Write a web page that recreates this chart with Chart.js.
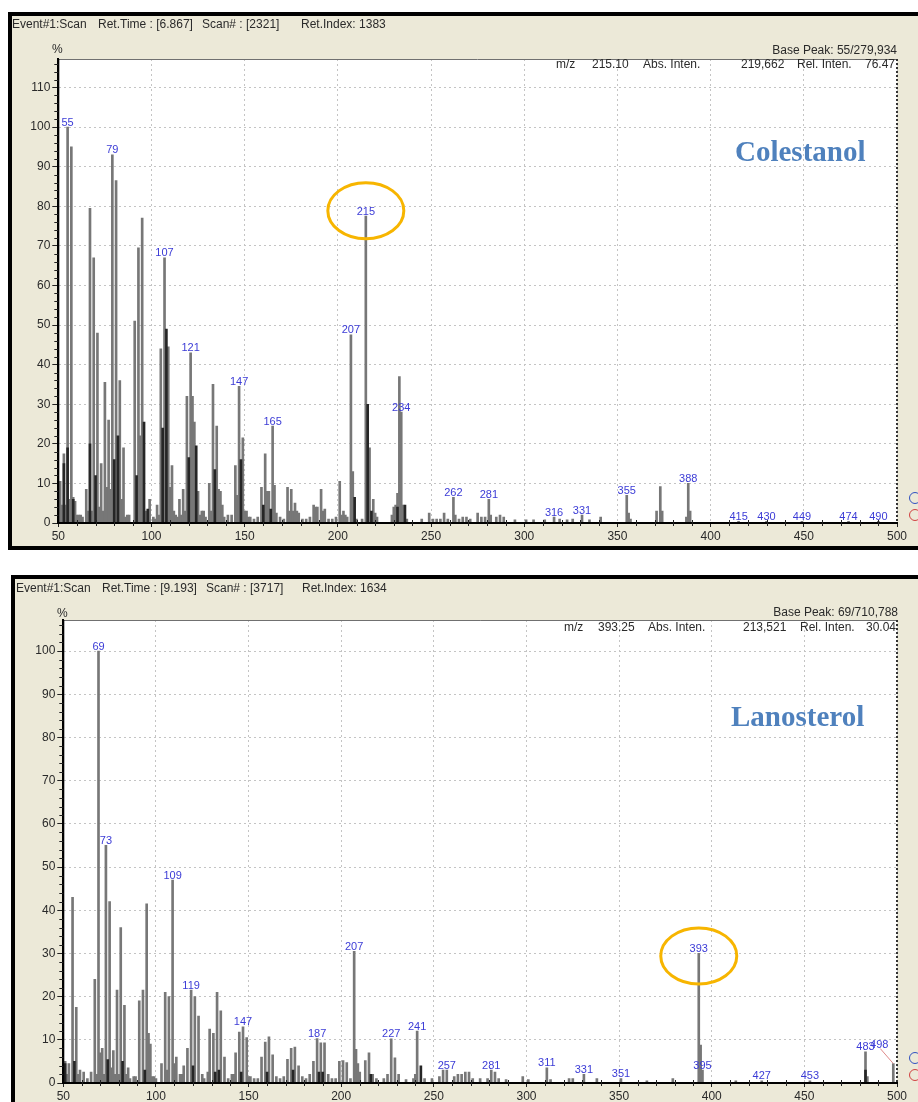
<!DOCTYPE html>
<html lang="es">
<head>
<meta charset="UTF-8">
<title>Espectros de masas - Colestanol / Lanosterol</title>
<script src="https://cdn.jsdelivr.net/npm/chart.js"></script>
<style>
    body {
        margin: 0;
        width: 918px;
        height: 1102px;
        overflow: hidden;
        position: relative;
        background: #fff;
        font-family: "Liberation Sans", Arial, sans-serif;
    }
    .panel {
        position: absolute;
        background: #ECE9D8;
        border: 4px solid #000;
        border-right: none;
        box-sizing: border-box;
    }
    #panelTop { left: 8px; top: 12px; width: 920px; height: 538px; }
    #panelBottom { left: 11px; top: 575px; width: 920px; height: 540px; }
    canvas { position: absolute; left: 0; }
    #chartTop { top: 0; }
    #chartBottom { top: 556px; }
    .t {
        position: absolute;
        font-size: 12px;
        line-height: 12px;
        color: #2a2a2a;
        white-space: nowrap;
    }
    .name {
        position: absolute;
        font-family: "Liberation Serif", "Times New Roman", serif;
        font-weight: bold;
        font-size: 29px;
        line-height: 29px;
        color: #4F81BD;
    }
    .icon {
        position: absolute;
        width: 10px;
        height: 10px;
        border-radius: 50%;
        border: 1.5px solid;
        left: 909px;
    }
</style>
</head>
<body>
<div class="panel" id="panelTop"></div>
<div class="panel" id="panelBottom"></div>
<canvas id="chartTop" width="918" height="550"></canvas>
<canvas id="chartBottom" width="918" height="546"></canvas>

<!-- top panel texts -->
<span class="t" style="left:12px;top:18px">Event#1:Scan</span>
<span class="t" style="left:98px;top:18px">Ret.Time : [6.867]</span>
<span class="t" style="left:202px;top:18px">Scan# : [2321]</span>
<span class="t" style="left:301px;top:18px">Ret.Index: 1383</span>
<span class="t" style="left:52px;top:43px">%</span>
<span class="t" style="right:21px;top:44px">Base Peak: 55/279,934</span>
<span class="t" style="left:556px;top:58px">m/z</span>
<span class="t" style="left:592px;top:58px">215.10</span>
<span class="t" style="left:643px;top:58px">Abs. Inten.</span>
<span class="t" style="left:741px;top:58px">219,662</span>
<span class="t" style="left:797px;top:58px">Rel. Inten.</span>
<span class="t" style="left:865px;top:58px">76.47</span>
<span class="name" style="left:735px;top:137px">Colestanol</span>
<div class="icon" style="top:492px;border-color:#3050c0"></div>
<div class="icon" style="top:509px;border-color:#d04040"></div>

<!-- bottom panel texts -->
<span class="t" style="left:16px;top:582px">Event#1:Scan</span>
<span class="t" style="left:102px;top:582px">Ret.Time : [9.193]</span>
<span class="t" style="left:206px;top:582px">Scan# : [3717]</span>
<span class="t" style="left:302px;top:582px">Ret.Index: 1634</span>
<span class="t" style="left:57px;top:607px">%</span>
<span class="t" style="right:20px;top:606px">Base Peak: 69/710,788</span>
<span class="t" style="left:564px;top:621px">m/z</span>
<span class="t" style="left:598px;top:621px">393.25</span>
<span class="t" style="left:648px;top:621px">Abs. Inten.</span>
<span class="t" style="left:743px;top:621px">213,521</span>
<span class="t" style="left:800px;top:621px">Rel. Inten.</span>
<span class="t" style="left:866px;top:621px">30.04</span>
<span class="name" style="left:731px;top:702px">Lanosterol</span>
<div class="icon" style="top:1052px;border-color:#3050c0"></div>
<div class="icon" style="top:1069px;border-color:#d04040"></div>

<script>
// ---- Colestanol (top) ----
const colMz = [50,51,52,53,54,55,56,57,58,59,60,61,62,63,65,66,67,68,69,71,72,73,74,75,76,77,78,79,81,83,84,85,86,87,88,
    91,93,94,95,97,99,101,102,103,104,105,107,109,110,111,112,113,114,115,116,117,118,119,121,122,123,125,126,127,128,129,
    131,132,133,135,136,137,138,139,141,143,145,146,147,149,150,151,152,153,155,157,159,161,162,163,165,166,167,169,171,
    173,174,175,176,177,178,179,181,183,185,187,188,189,191,192,193,195,197,199,201,202,203,204,205,207,208,210,213,215,
    217,219,220,221,229,230,231,232,233,234,235,237,245,249,251,253,255,257,259,262,263,265,267,269,271,275,277,279,281,
    282,285,287,289,295,301,305,311,316,319,323,326,331,335,341,355,356,357,371,373,374,387,388,389,415,430,449,474,490];
const colVal = [8,10.5,4.5,17.5,4.5,100,6,95,6.5,5.5,2,2,2,1.5,8.5,3,79.5,3,67,48,4,15,3,35.5,9,26,8.5,93,86.5,36,6,19,1.5,2,2,
    51,69.5,22,77,3,6,1.5,1,4.5,2,44,67,44.5,9,14.5,3,2,1.5,6,2,8.5,3,32,43,32,25.5,8,2,3,3,1.5,
    10,3,35,24.5,8.5,8,4.5,1.5,2,2,14.5,7,34.5,21.5,3,3,1.5,1.5,1,1.5,9,17.5,8,8,24.5,9.5,2.5,1.5,1,
    9,3,8.5,3,5,3,2.5,1,1,1.5,4.5,4,4,8.5,3,3.5,1,1,1.5,10.5,2,3,2,1.5,47.5,13,1,1,77.5,
    19,6,2.5,1.5,2,4,4.5,7.5,37,28,4.5,1,1,2.5,1,1,1,2.5,1,6.5,2,1,1.5,1.5,1,2.5,1.5,1.5,6,
    2,1.5,2,1.5,0.8,0.8,0.8,0.8,1.5,1,0.8,1,2,0.8,1.5,7,2.5,1,3,9.2,3,1.5,10,3,0.4,0.4,0.4,0.4,0.4];
const colDarkMz = [53,55,58,67,70,80,82,92,96,98,106,108,120,124,134,148,160,164,209,216,218,232,236];
const colDarkVal = [15,19,6,20,12,16,22,12,25.5,3.5,24,49,16.5,19.5,13.5,16,4.5,3.5,6.5,30,3,4,4.5];
const colLabels = [55,79,107,121,147,165,207,215,234,262,281,316,331,355,388,415,430,449,474,490];
const colYTicks = [0,10,20,30,40,50,60,70,80,90,100,110];

// ---- Lanosterol (bottom) ----
const lanMz = [50,51,52,53,55,57,58,59,61,63,65,67,68,69,70,71,72,73,75,76,77,78,79,80,81,83,84,85,86,88,89,
    91,93,95,96,97,98,99,100,103,105,106,107,109,110,111,113,114,115,117,119,121,123,125,126,128,129,131,133,135,137,
    139,141,142,143,145,147,149,150,151,153,155,157,159,161,163,165,167,169,171,173,175,177,179,181,183,185,187,189,191,
    193,195,197,199,201,203,205,207,208,209,210,213,215,217,219,223,225,227,229,231,235,239,240,241,245,249,253,255,257,
    261,263,265,267,269,271,275,279,281,283,285,289,298,301,311,313,323,325,331,338,351,365,379,393,394,395,413,427,453,
    483,484,498];
const lanVal = [2,5,2,4.5,43,17.5,2,3,2.5,1,2.5,24,2,100,7,8,2,55,42,3.5,7.5,2,21.5,2,36,18,2,3.5,1,1.5,1.5,
    19,21.5,41.5,11.5,9,1.5,1.5,1,4.5,21,3,20,47,4.5,6,2,2,4,8,21.5,20,15.5,2,1,2.5,12.5,11.5,21,16.7,6,
    1,2,2,7,11.8,13,10.5,1.5,1.5,1,1,6,9.5,10.7,6.5,1.5,1,1.5,5.5,8,8.3,4,1.5,1,2,5,10.3,9.3,9.3,
    2,1,1,5,5.2,4.7,1,30.5,7.8,4.5,2.5,5.2,7,2,1,1,2,10.2,5.8,2,0.8,1,2,12,1,1,1.5,3,3,
    1.5,2,2,2.5,2.5,1,1,1,3,2.5,1,0.8,1.5,0.8,3.5,0.8,1,1,2,1,1,0.5,1,30,8.8,3,0.5,0.5,0.5,
    7.2,1.5,4.5];
const lanDarkMz = [51,56,74,82,94,120,132,134,146,160,174,188,190,216,243,483];
const lanDarkVal = [4.5,5,5.4,5,3,4,2.5,3,2.5,2.5,3,2.5,2.5,2,4,3];
const lanLabels = [69,73,109,119,147,187,207,227,241,257,281,311,331,351,393,395,427,453,483,498];
const lanYTicks = [0,10,20,30,40,50,60,70,80,90,100];

const xTicks = [50,100,150,200,250,300,350,400,450,500];

Chart.defaults.font.family = '"Liberation Sans", Arial, sans-serif';
Chart.defaults.font.size = 12;
Chart.defaults.color = '#2a2a2a';

function points(mz, val) {
    return mz.map((m, i) => ({ x: m, y: val[i] }));
}

const spectrumPlugin = {
    id: 'spectrum',
    beforeDraw(chart) {
        const { ctx, chartArea: a } = chart;
        ctx.save();
        ctx.fillStyle = '#fff';
        ctx.fillRect(a.left, a.top, a.right - a.left, a.bottom - a.top);
        ctx.restore();
    },
    afterDraw(chart, args, opts) {
        const { ctx, chartArea: a, scales: { x, y } } = chart;
        ctx.save();

        // frame of the plot area
        ctx.strokeStyle = '#707070';
        ctx.lineWidth = 1;
        ctx.beginPath();
        ctx.moveTo(a.left, a.top + 0.5);
        ctx.lineTo(a.right, a.top + 0.5);
        ctx.stroke();
        ctx.strokeStyle = '#333';
        ctx.lineWidth = 2;
        ctx.setLineDash([2, 2]);
        ctx.beginPath();
        ctx.moveTo(a.right, a.top);
        ctx.lineTo(a.right, a.bottom);
        ctx.stroke();
        ctx.setLineDash([]);
        ctx.strokeStyle = '#000';
        ctx.beginPath();
        ctx.moveTo(a.left, a.top);
        ctx.lineTo(a.left, a.bottom);
        ctx.lineTo(a.right, a.bottom);
        ctx.stroke();

        // minor ticks
        ctx.lineWidth = 1;
        ctx.strokeStyle = '#222';
        for (let v = 2; v <= y.max; v += 2) {
            if (v % 10 === 0) continue;
            const py = Math.round(y.getPixelForValue(v)) + 0.5;
            ctx.beginPath();
            ctx.moveTo(a.left - 4, py);
            ctx.lineTo(a.left, py);
            ctx.stroke();
        }
        for (let v = 60; v < 500; v += 10) {
            if (v % 50 === 0) continue;
            const px = Math.round(x.getPixelForValue(v)) + 0.5;
            ctx.beginPath();
            ctx.moveTo(px, a.bottom - 3);
            ctx.lineTo(px, a.bottom + 3);
            ctx.stroke();
        }

        // peak labels
        const peak = (m) => {
            let best = 0;
            chart.data.datasets.forEach(ds => ds.data.forEach(p => { if (p.x === m && p.y > best) best = p.y; }));
            return best;
        };
        ctx.font = '11px "Liberation Sans", Arial, sans-serif';
        ctx.fillStyle = '#3b3bd6';
        ctx.textAlign = 'center';
        ctx.textBaseline = 'alphabetic';
        opts.labels.forEach(m => {
            const px = x.getPixelForValue(m);
            const top = y.getPixelForValue(peak(m));
            if (m === opts.leader) {
                ctx.fillText(String(m), px - 14, top - 16);
                ctx.strokeStyle = '#e08a8a';
                ctx.lineWidth = 1;
                ctx.beginPath();
                ctx.moveTo(px - 13, top - 15);
                ctx.lineTo(px, top);
                ctx.stroke();
            } else {
                ctx.fillText(String(m), px, top - 1.5);
            }
        });

        // highlighted peak
        const cx = x.getPixelForValue(opts.circled);
        const cy = y.getPixelForValue(peak(opts.circled)) - 5.5 + opts.circleDy;
        ctx.strokeStyle = '#F7B500';
        ctx.lineWidth = 3;
        ctx.beginPath();
        ctx.ellipse(cx, cy, 38, 28, 0, 0, Math.PI * 2);
        ctx.stroke();

        ctx.restore();
    }
};

function makeChart(id, mz, val, darkMz, darkVal, yMax, yTicks, labels, circled, circleDy, leader, pad) {
    return new Chart(document.getElementById(id), {
        type: 'bar',
        data: {
            datasets: [
                { data: points(darkMz, darkVal), backgroundColor: '#262626', barThickness: 2, grouped: false },
                { data: points(mz, val), backgroundColor: '#777777', barThickness: 2, grouped: false }
            ]
        },
        options: {
            responsive: false,
            animation: false,
            layout: { padding: pad },
            plugins: {
                legend: { display: false },
                tooltip: { enabled: false },
                spectrum: { labels: labels, circled: circled, circleDy: circleDy, leader: leader }
            },
            scales: {
                x: {
                    type: 'linear',
                    min: 50,
                    max: 500,
                    offset: false,
                    afterBuildTicks: s => { s.ticks = xTicks.map(v => ({ value: v })); },
                    afterFit: s => { s.height = 18; },
                    grid: { offset: false, color: '#c4c4c4', lineWidth: 1, tickLength: 4, tickColor: '#222' },
                    border: { color: '#000', width: 2, dash: [2, 3] },
                    ticks: { padding: 2, maxRotation: 0 }
                },
                y: {
                    min: 0,
                    max: yMax,
                    afterBuildTicks: s => { s.ticks = yTicks.map(v => ({ value: v })); },
                    afterFit: s => { s.width = 44; },
                    grid: { color: '#c4c4c4', lineWidth: 1, tickLength: 6, tickColor: '#222' },
                    border: { color: '#000', width: 2, dash: [2, 3] },
                    ticks: { padding: 2 }
                }
            }
        },
        plugins: [spectrumPlugin]
    });
}

makeChart('chartTop', colMz, colVal, colDarkMz, colDarkVal, 117.2, colYTicks, colLabels, 215, 0, null,
    { left: 14.3, right: 21, top: 59, bottom: 9 });
makeChart('chartBottom', lanMz, lanVal, lanDarkMz, lanDarkVal, 107.2, lanYTicks, lanLabels, 393, 8, 498,
    { left: 19.3, right: 21, top: 64, bottom: 1 });
</script>
</body>
</html>
